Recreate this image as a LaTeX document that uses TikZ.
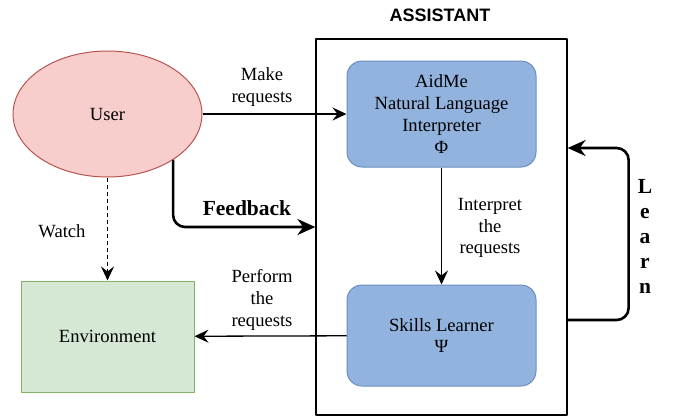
\documentclass[tikz,border=0pt]{standalone}
\usepackage{fontspec}
\setmainfont{Liberation Serif}
\newfontfamily\headfont{Liberation Sans}
\usetikzlibrary{positioning,arrows.meta,shapes.geometric}

\definecolor{userfill}{HTML}{F8CECC}
\definecolor{userline}{HTML}{B85450}
\definecolor{blockfill}{HTML}{93B3DF}
\definecolor{blockline}{HTML}{6C8EBF}
\definecolor{envfill}{HTML}{D5E8D4}
\definecolor{envline}{HTML}{82B366}

\begin{document}
\begin{tikzpicture}[x=1pt, y=-1pt, line join=round,
  txt/.style={font=\fontsize{18.6}{21.8}\selectfont, align=center},
  bigtxt/.style={font=\fontsize{21.5}{25}\selectfont\bfseries, align=center},
  userbox/.style={ellipse, draw=userline, fill=userfill, line width=1pt, minimum width=189pt, minimum height=126pt, inner sep=0pt, txt},
  block/.style={rectangle, rounded corners=15pt, draw=blockline, fill=blockfill, line width=1pt, minimum width=189pt, inner sep=0pt, txt},
  envbox/.style={rectangle, draw=envline, fill=envfill, line width=1pt, minimum width=173pt, minimum height=111pt, inner sep=0pt, txt},
  flow/.style={line width=1.3pt, -{Stealth[length=14pt, width=13pt, inset=5pt]}},
  feedback/.style={line width=2.6pt, rounded corners=12pt, -{Stealth[length=18pt, width=16pt, inset=6pt]}}]
\useasboundingbox (0,0) rectangle (673,416);

% assistant frame
\node[draw, line width=1.3pt, minimum width=251pt, minimum height=376pt, inner sep=0pt] (assistant) at (441.5,227) {};
\node[font=\fontsize{18}{21.6}\headfont\bfseries] (title) at (440,15) {ASSISTANT};

% nodes
\node[userbox] (user) at (107.5,114) {\raisebox{-2pt}{User}};
\node[block, minimum height=106pt] (aidme) at (441.5,114) {AidMe\\Natural Language\\Interpreter\\Φ};
\node[block, minimum height=101pt] (skills) at (441.5,335.5) {Skills Learner\\Ψ};
\node[envbox] (env) at (107.5,336.5) {\raisebox{-2pt}{Environment}};

% connectors
\draw[flow] (user) -- (aidme);
\draw[flow] (aidme) -- (skills);
\draw[flow] (skills) -- (env);
\draw[flow, dash pattern=on 4pt off 3pt] (user) -- (env);
\draw[feedback] (user.-35.5) |- (assistant.west);
\draw[feedback] (assistant.east |- 0,320) -- ++(61,0) |- (assistant.east |- 0,148);

% labels
\node[txt] (makelbl) at (262,87) {Make\\requests};
\node[txt] (interplbl) at (490,228) {Interpret\\the\\requests};
\node[txt] (performlbl) at (262,300) {Perform\\the\\requests};
\node[txt] (watchlbl) at (62,231) {Watch};
\node[bigtxt] (feedlbl) at (247,208) {Feedback};
\node[bigtxt] (learnlbl) at (645,236) {L\\e\\a\\r\\n};

\end{tikzpicture}
\end{document}
